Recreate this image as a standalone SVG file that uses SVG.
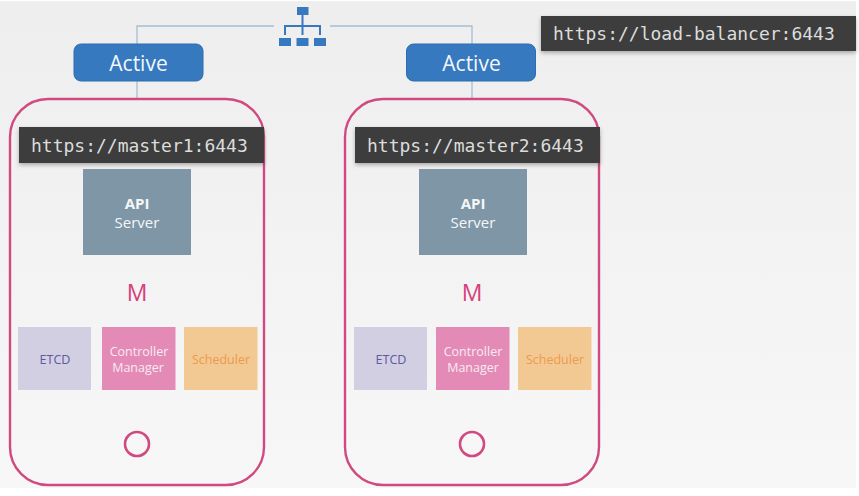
<svg xmlns="http://www.w3.org/2000/svg" width="859" height="496" viewBox="0 0 859 496">
<defs>
<linearGradient id="bg" x1="0" y1="0" x2="0" y2="1"><stop offset="0" stop-color="#eeeeee"/><stop offset="1" stop-color="#f7f7f7"/></linearGradient>
<filter id="sh" x="-5%" y="-20%" width="110%" height="150%"><feDropShadow dx="0" dy="2" stdDeviation="2" flood-color="#000" flood-opacity="0.3"/></filter>
</defs>
<style>
text{font-family:"Open Sans","Noto Sans","Liberation Sans",sans-serif;text-anchor:middle}
.conn{fill:none;stroke:#a3bfd3;stroke-width:1.3}
.active{fill:#3679bf;stroke:#2f6cad;stroke-width:1}
.activet{fill:#f2f6fb;font-size:21px}
.phone{fill:none;stroke:#d04a80;stroke-width:2.4}
.url{fill:#3c3c3c}
.urlt{fill:#dcdcdc;font-family:"DejaVu Sans Mono","Liberation Mono",monospace;font-size:18px;text-anchor:start}
.api{fill:#7f96a6}
.apit{fill:#f4f6f8;font-size:15px}
.m{fill:#d6407c;font-size:23px}
.etcd{fill:#d3cfe3}.etcdt{fill:#5a5a9c;font-size:12.5px}
.cm{fill:#e38ab7}.cmt{fill:#f8eaf2;font-size:12.500px}
.sch{fill:#f3c993}.scht{fill:#ec9a4c;font-size:12.500px}
.home{fill:none;stroke:#d04a80;stroke-width:2.6}
.lb{fill:#3679bf}
.lbl{fill:none;stroke:#3679bf;stroke-width:2}
</style>
<rect x="0" y="0" width="859" height="496" fill="#ffffff"/>
<rect x="0" y="1" width="856" height="487" fill="url(#bg)"/>
<g id="connectors">
<path class="conn" d="M137 99V26H274"/>
<path class="conn" d="M330 26H472V99"/>
</g>
<g id="load-balancer-icon">
<rect class="lb" x="297" y="7" width="11.500" height="8"/>
<path class="lbl" d="M302.500 15V35M285 35V26H320V35"/>
<rect class="lb" x="279" y="38" width="12" height="8"/>
<rect class="lb" x="296.500" y="38" width="12" height="8"/>
<rect class="lb" x="314" y="38" width="12" height="8"/>
</g>
<g id="active1">
<rect class="active" x="74" y="44" width="129" height="37" rx="7"/>
<text class="activet" x="138.500" y="70.500">Active</text>
</g>
<g id="active2">
<rect class="active" x="406.500" y="44" width="129" height="37" rx="7"/>
<text class="activet" x="471.500" y="70.500">Active</text>
</g>
<g id="load-balancer-url">
<rect class="url" x="541" y="16" width="315" height="35" filter="url(#sh)"/>
<text class="urlt" x="553" y="40">https://load-balancer:6443</text>
</g>
<g id="master1">
<rect class="phone" x="10" y="99" width="254" height="386" rx="38"/>
<rect class="url" x="19" y="127" width="245" height="36" filter="url(#sh)"/>
<text class="urlt" x="31" y="152">https://master1:6443</text>
<rect class="api" x="83" y="169" width="108" height="86"/>
<text class="apit" x="137" y="209" font-weight="700">API</text>
<text class="apit" x="137" y="228">Server</text>
<text class="m" x="137" y="301">M</text>
<rect class="etcd" x="18" y="327" width="73" height="63"/>
<text class="etcdt" x="55" y="364">ETCD</text>
<rect class="cm" x="102" y="327" width="73.500" height="63"/>
<text class="cmt" x="139" y="356">Controller</text>
<text class="cmt" x="138" y="372">Manager</text>
<rect class="sch" x="184" y="327" width="73.500" height="63"/>
<text class="scht" x="221" y="364">Scheduler</text>
<circle class="home" cx="137" cy="444" r="12"/>
</g>
<g id="master2">
<rect class="phone" x="345" y="99" width="254" height="386" rx="38"/>
<rect class="url" x="355" y="127" width="245" height="36" filter="url(#sh)"/>
<text class="urlt" x="367" y="152">https://master2:6443</text>
<rect class="api" x="419" y="169" width="108" height="86"/>
<text class="apit" x="473" y="209" font-weight="700">API</text>
<text class="apit" x="473" y="228">Server</text>
<text class="m" x="472" y="301">M</text>
<rect class="etcd" x="354" y="327" width="73" height="63"/>
<text class="etcdt" x="391" y="364">ETCD</text>
<rect class="cm" x="436" y="327" width="73.500" height="63"/>
<text class="cmt" x="473" y="356">Controller</text>
<text class="cmt" x="473" y="372">Manager</text>
<rect class="sch" x="518" y="327" width="73.500" height="63"/>
<text class="scht" x="555" y="364">Scheduler</text>
<circle class="home" cx="472" cy="444" r="12"/>
</g>
</svg>
